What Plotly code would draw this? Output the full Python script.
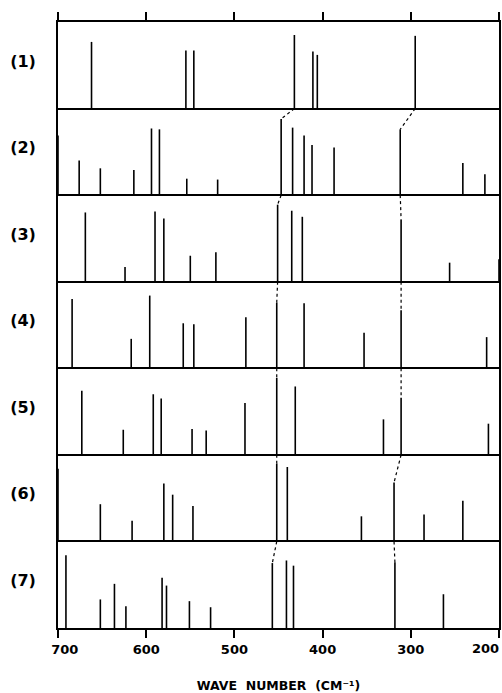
import plotly.graph_objects as go

# ---- data (wave numbers in cm^-1, relative intensities 0..1 of panel height) ----
panel_labels = ["(1)", "(2)", "(3)", "(4)", "(5)", "(6)", "(7)"]

p1_pos = [662, 555, 546, 432, 411, 406, 295]
p1_int = [0.77, 0.67, 0.67, 0.85, 0.66, 0.62, 0.84]

p2_pos = [700, 676, 652, 614, 594, 585, 554, 519, 447, 434, 421, 412, 387, 312, 241, 216]
p2_int = [0.69, 0.40, 0.31, 0.29, 0.77, 0.76, 0.19, 0.18, 0.88, 0.78, 0.69, 0.58, 0.55, 0.76, 0.37, 0.24]

p3_pos = [669, 624, 590, 580, 550, 521, 451, 435, 423, 311, 256, 200]
p3_int = [0.80, 0.17, 0.81, 0.73, 0.30, 0.34, 0.89, 0.82, 0.75, 0.72, 0.22, 0.26]

p4_pos = [684, 617, 596, 558, 546, 487, 452, 421, 353, 311, 214]
p4_int = [0.80, 0.34, 0.84, 0.52, 0.51, 0.59, 0.76, 0.75, 0.41, 0.67, 0.36]

p5_pos = [673, 626, 592, 583, 548, 532, 488, 452, 431, 331, 311, 212]
p5_int = [0.74, 0.29, 0.70, 0.65, 0.30, 0.28, 0.60, 0.89, 0.79, 0.41, 0.66, 0.36]

p6_pos = [700, 652, 616, 580, 570, 547, 452, 440, 356, 319, 285, 241]
p6_int = [0.84, 0.43, 0.24, 0.67, 0.54, 0.41, 0.90, 0.86, 0.29, 0.68, 0.31, 0.47]

p7_pos = [691, 652, 636, 623, 582, 577, 551, 527, 457, 441, 433, 318, 263]
p7_int = [0.84, 0.33, 0.51, 0.25, 0.58, 0.49, 0.31, 0.24, 0.75, 0.78, 0.72, 0.76, 0.39]

# correlated bands traced through the panels (dotted connectors)
chain_a = [432, 447, 451, 452, 452, 452, 457]
chain_b = [295, 312, 311, 311, 311, 319, 318]

x_ticks = [700, 600, 500, 400, 300, 200]
x_ticktext = ["\u00a0\u00a0\u00a0700", "600", "500", "400", "300", ""]
x_end_label = "200"   # right-most tick label, right-aligned to stay inside the page

panels = [(p1_pos, p1_int), (p2_pos, p2_int), (p3_pos, p3_int), (p4_pos, p4_int),
          (p5_pos, p5_int), (p6_pos, p6_int), (p7_pos, p7_int)]
n = len(panels)

fig = go.Figure()

# stick spectra
for k, (pos, inten) in enumerate(panels):
    base = n - 1 - k
    xs, ys = [], []
    for p, h in zip(pos, inten):
        xs += [p, p, None]
        ys += [base, base + h, None]
    fig.add_trace(go.Scatter(x=xs, y=ys, mode="lines",
                             line=dict(color="black", width=1.6),
                             hoverinfo="skip", showlegend=False))

# dotted correlation lines
for chain in (chain_a, chain_b):
    xs, ys = [], []
    for k in range(n - 1):
        base_up = n - 1 - k
        base_lo = n - 2 - k
        pos_lo, int_lo = panels[k + 1]
        h = int_lo[pos_lo.index(chain[k + 1])]
        xs += [chain[k], chain[k + 1], None]
        ys += [base_up, base_lo + h, None]
    fig.add_trace(go.Scatter(x=xs, y=ys, mode="lines",
                             line=dict(color="black", width=1.2, dash="dot"),
                             hoverinfo="skip", showlegend=False))

fig.add_annotation(x=x_ticks[-1], y=0, xref="x", yref="y", text=x_end_label,
                   showarrow=False, xanchor="right", yanchor="top", xshift=2, yshift=-11,
                   font=dict(size=13, weight="bold"))

fig.update_layout(
    width=502, height=693,
    margin=dict(l=58, r=3, t=22, b=65),
    paper_bgcolor="white", plot_bgcolor="white",
    font=dict(family="DejaVu Sans, Liberation Sans, sans-serif", color="black"),
    xaxis=dict(
        range=[700, 200], tickvals=x_ticks, ticktext=x_ticktext,
        ticks="outside", ticklen=8, tickwidth=1.5, tickcolor="black",
        showline=True, linecolor="black", linewidth=1.8, mirror="ticks",
        showgrid=False, zeroline=False, automargin=False,
        tickfont=dict(size=13, weight="bold"),
        title=dict(text="WAVE\u00a0\u00a0NUMBER\u00a0\u00a0(CM⁻¹)", standoff=26,
                   font=dict(size=12.5, weight="bold")),
    ),
    yaxis=dict(
        range=[0, n], tickvals=[n - 1 - k + 0.55 for k in range(n)], ticktext=panel_labels,
        ticks="", ticklabelstandoff=17, automargin=False,
        tickfont=dict(size=16, weight="bold"),
        showline=True, linecolor="black", linewidth=1.8, mirror=True,
        showgrid=False, zeroline=False,
        minor=dict(tickvals=list(range(n + 1)), showgrid=True,
                   gridcolor="black", gridwidth=1.8, ticks=""),
    ),
)

fig.write_html("out.html", config={"displayModeBar": False},
               post_script="document.body.style.margin='0';document.body.style.overflow='hidden';")
